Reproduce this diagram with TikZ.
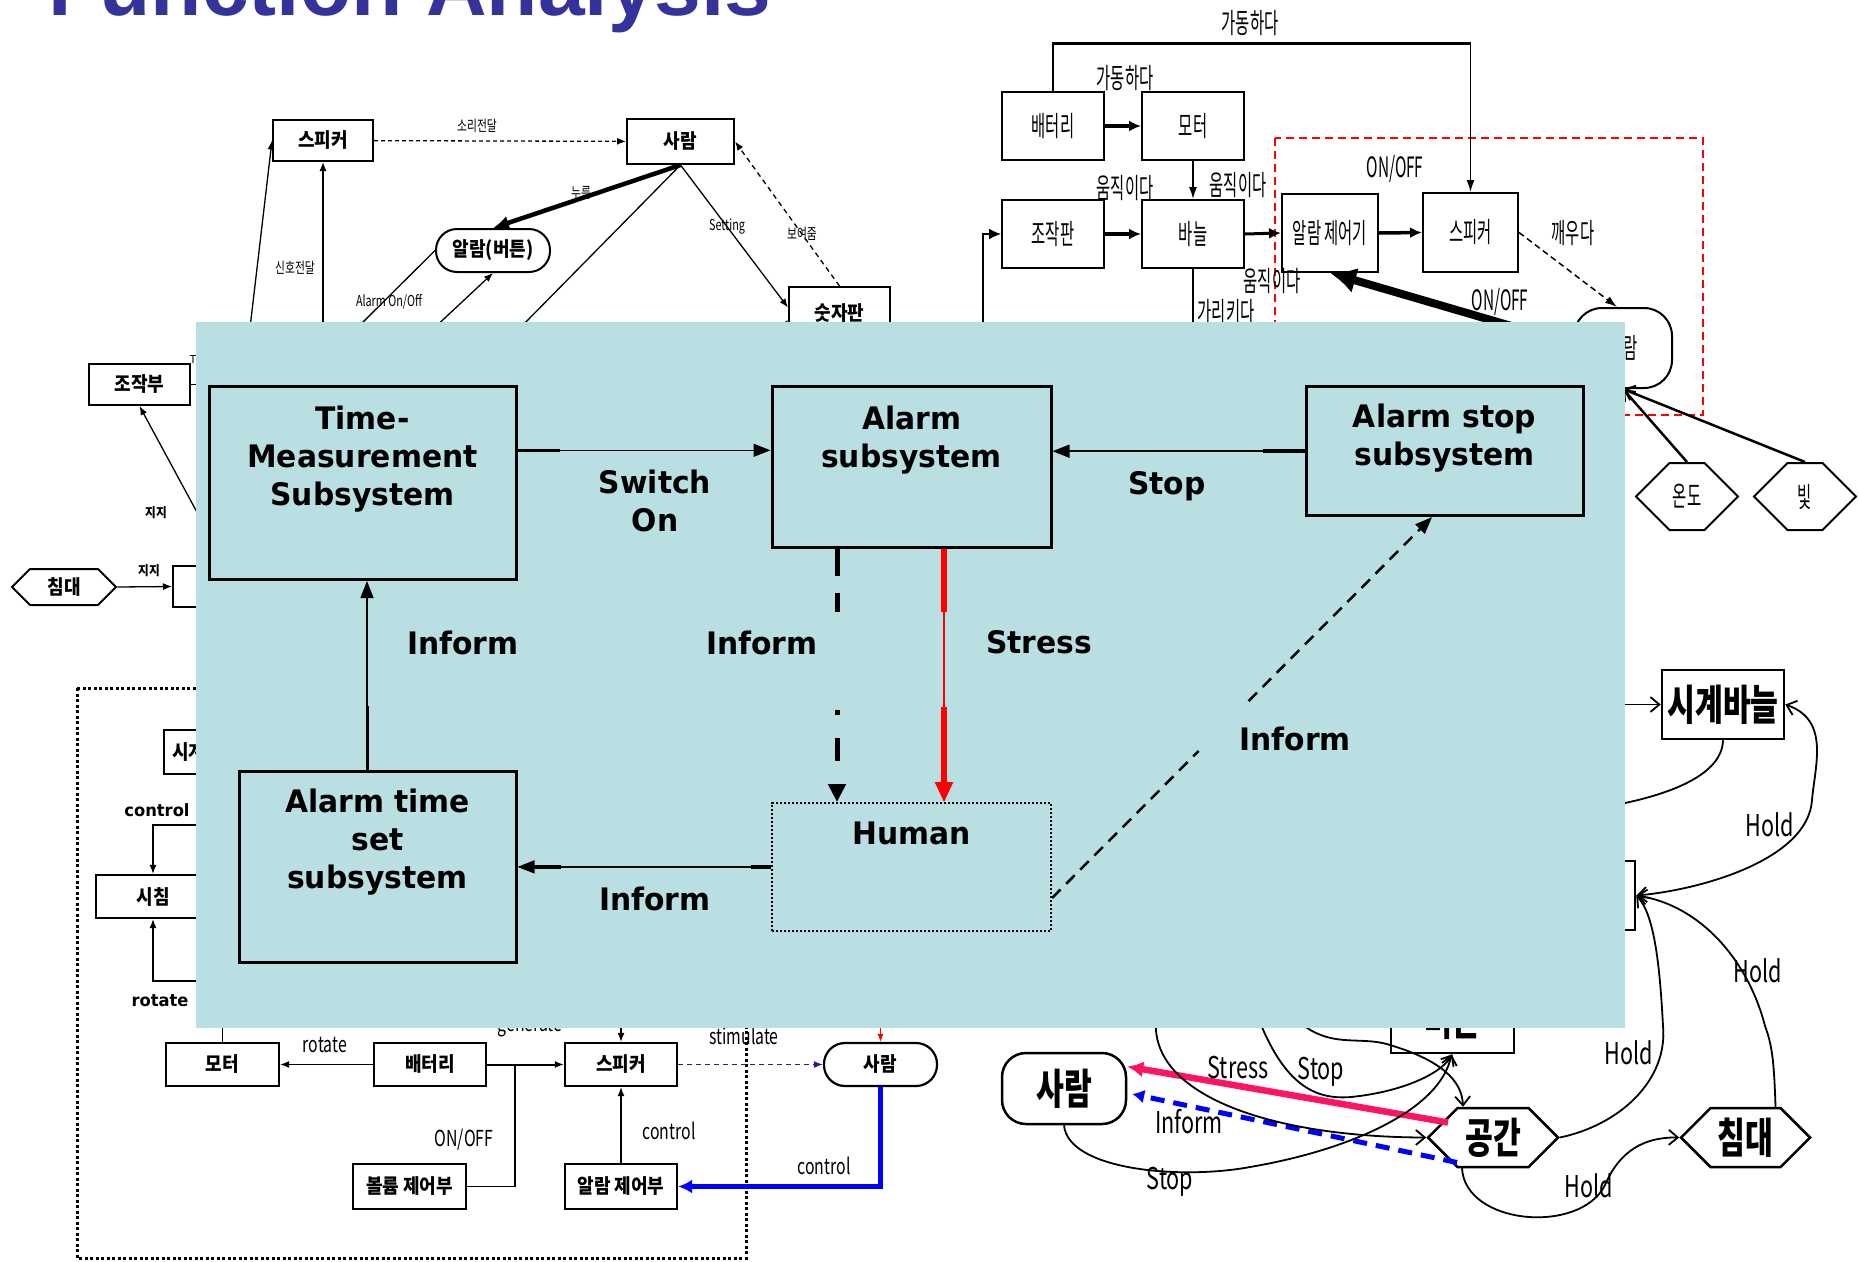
\documentclass[tikz,border=0pt]{standalone}
\usepackage{fontspec}
\setmainfont{DejaVu Sans}[FakeStretch=0.96]
\newfontfamily\titlefont{Liberation Sans}
\newfontfamily\krbold{Noto Sans CJK KR}[FakeStretch=0.9]
\newfontfamily\krnar{Noto Sans CJK KR}[FakeStretch=0.72]
\newfontfamily\krthin{Noto Sans CJK KR}[FakeStretch=0.55]
\usetikzlibrary{arrows.meta,shapes.symbols,calc}
\definecolor{panel}{RGB}{185,223,227}
\definecolor{titleblue}{RGB}{51,51,153}
\definecolor{dotnavy}{RGB}{30,30,140}
\definecolor{pinkred}{RGB}{255,20,100}
\newcommand\fsz[2]{\fontsize{#1}{#2}\selectfont}
\tikzset{
  tlbox/.style={draw,line width=2,fill=white,inner sep=0,font=\krbold\bfseries\fsz{20}{20}},
  tllbl/.style={inner sep=0,font=\krnar\fsz{15}{15}},
  tlbold/.style={inner sep=0,font=\krbold\bfseries\fsz{13}{13}},
  tlline/.style={line width=1.3},
  smalltip/.style={-{Latex[length=9pt,width=7pt]}},
  lbbox/.style={draw,line width=2.2,fill=white,inner sep=0,font=\krbold\bfseries\fsz{20}{20}},
  lblcond/.style={inner sep=0,font=\krnar\fsz{22}{22}},
  lblbold/.style={inner sep=0,font=\bfseries\fsz{17}{17}},
  trbox/.style={draw,line width=2,fill=white,inner sep=0,font=\krthin\fsz{28}{28}},
  trlbl/.style={inner sep=0,font=\krthin\fsz{28}{28}},
  trline/.style={line width=1.5},
  brbox/.style={draw,line width=2.5,fill=white,inner sep=0,font=\krnar\bfseries\fsz{42}{42}},
  brlbl/.style={inner sep=0,font=\krnar\fsz{30}{30}},
  brline/.style={line width=1.8},
  barb/.style={-{Straight Barb[length=9pt,width=15pt]}},
  hexa/.style={signal,signal to=west and east},
  mbox/.style={draw,line width=3,inner sep=0},
  mtext/.style={inner sep=0,align=center,font=\bfseries\fsz{31}{38}},
  mlbl/.style={inner sep=0,align=center,font=\bfseries\fsz{31}{38}},
  marrow/.style={line width=1.5,-{Triangle[length=17pt,width=13pt]}},
}

\begin{document}
\begin{tikzpicture}[x=1pt,y=-1pt]
\useasboundingbox (0,0) rectangle (1859,1261);
\clip (0,0) rectangle (1859,1261);

% title
\node[anchor=base west,inner sep=0,text=titleblue,font=\titlefont\bfseries\fsz{84}{84}] (title) at (48,15) {Function Analysis};

% top left diagram
\node[tlbox,minimum width=100,minimum height=41] (spkA) at (323,140.5) {스피커};
\node[tlbox,minimum width=107,minimum height=45] (humA) at (680.5,141.5) {사람};
\node[tlbox,rounded corners=21,minimum width=114,minimum height=43] (btnA) at (493,250.5) {알람(버튼)};
\node[tlbox,minimum width=101,minimum height=53] (numA) at (839.5,313.5) {숫자판};
\node[tlbox,minimum width=101,minimum height=41] (ctlA) at (139.5,384.5) {조작부};
\node[tlbox,hexa,minimum width=104,minimum height=36] (bedA) at (64,587) {침대};
\node[tlbox,minimum width=90,minimum height=41] (boxA) at (218,586.5) {};

\draw[tlline,dash pattern=on 4pt off 3pt,smalltip] (spkA) -- (humA);
\node[tllbl] (lA1) at (477,126) {소리전달};
\draw[line width=4.5,-{Latex[length=16pt,width=14pt]}] (humA.south) -- (btnA.north);
\node[tllbl] (lA2) at (581,193) {누름};
\draw[tlline] (humA.south) -- (518,330);
\draw[tlline,smalltip] (humA.south) -- ([yshift=6]numA.west);
\node[tllbl] (lA3) at (727,227) {Setting};
\draw[tlline,dash pattern=on 5pt off 4pt,smalltip] (numA.north) -- (humA.east);
\node[tllbl] (lA4) at (802,234) {보여줌};
\draw[tlline,smalltip] (774,340) -- ([yshift=-6]numA.west);
\draw[tlline] (btnA.west) -- (350,335);
\node[tllbl] (lA5) at (389,302) {Alarm On/Off};
\draw[tlline,smalltip] (416,345) -- (btnA.south);
\draw[tlline,smalltip] (248,345) -- (spkA.west);
\draw[tlline,smalltip] (323,345) -- (spkA.south);
\node[tllbl] (lA6) at (295,268) {신호전달};
\draw[tlline] (ctlA.east) -- (215,384.5);
\node[inner sep=0,font=\fsz{11}{11}] (lA7) at (193,359) {T};
\draw[tlline,smalltip] (205,527) -- (ctlA.south);
\node[tlbold] (lA8) at (156,513) {지지};
\draw[tlline,smalltip] (bedA.east) -- (boxA.west);
\node[tlbold] (lA9) at (149,571) {지지};

% bottom left diagram
\draw[line width=3,dash pattern=on 3pt off 2.5pt] (77,688) rectangle (746,1258);
\node[lbbox,text width=84,align=left,inner xsep=8,minimum height=44] (clkB) at (214,752) {시계};
\node[lbbox,minimum width=114,minimum height=43] (sicB) at (153,896.5) {시침};
\node[lbbox,minimum width=113,minimum height=43] (motB) at (222.5,1064.5) {모터};
\node[lbbox,minimum width=112,minimum height=43] (batB) at (430,1064.5) {배터리};
\node[lbbox,minimum width=112,minimum height=43] (spkB) at (621,1064.5) {스피커};
\node[lbbox,minimum width=113,minimum height=45] (volB) at (409.5,1186.5) {볼륨 제어부};
\node[lbbox,minimum width=112,minimum height=45] (almB) at (621,1186.5) {알람 제어부};
\node[lbbox,rounded corners=21,minimum width=113,minimum height=43] (humB) at (880.5,1064.5) {사람};

\draw[tlline,smalltip] (215,825) -| (sicB.north);
\node[lblbold] (lB1) at (157,810) {control};
\draw[tlline,smalltip] (215,981) -| (sicB.south);
\node[lblbold] (lB2) at (160,1001) {rotate};
\draw[tlline] (motB.north) -- (222.5,1020);
\draw[tlline,smalltip] (batB.west) -- (motB.east);
\node[lblcond] (lB3) at (325,1045) {rotate};
\draw[line width=2,smalltip] (batB.east) -- (spkB.west);
\draw[tlline] (volB.east) -| (515,1064.5);
\node[lblcond] (lB4) at (464,1140) {ON/OFF};
\draw[tlline,smalltip] (almB.north) -- (spkB.south);
\node[lblcond] (lB5) at (669,1131) {control};
\draw[tlline,smalltip] (621,1020) -- (spkB.north);
\node[lblcond] (lB6) at (530,1027) {generate};
\draw[dotnavy,tlline,dash pattern=on 5pt off 4pt,smalltip] (spkB.east) -- (humB.west);
\node[lblcond] (lB7) at (744,1036) {stimulate};
\draw[red,line width=1,-{Latex[length=8pt,width=6pt]}] (880.5,1020) -- (humB.north);
\draw[blue,line width=4.5,-{Latex[length=14pt,width=14pt]}] (humB.south) |- (almB.east);
\node[lblcond] (lB8) at (824,1166) {control};

% top right diagram
\draw[red,line width=2,dash pattern=on 8pt off 5pt] (1275,138) rectangle (1703,415);
\node[trbox,minimum width=102,minimum height=68] (batC) at (1053,126) {배터리};
\node[trbox,minimum width=102,minimum height=68] (motC) at (1193,126) {모터};
\node[trbox,minimum width=102,minimum height=68] (ctlC) at (1053,234) {조작판};
\node[trbox,minimum width=102,minimum height=68] (ndlC) at (1193,234) {바늘};
\node[trbox,minimum width=96,minimum height=78] (almC) at (1330,233) {알람 제어기};
\node[trbox,minimum width=95,minimum height=79] (spkC) at (1470.5,232.5) {스피커};
\node[trbox,rounded corners=28,minimum width=98,minimum height=80] (alrC) at (1623,348) {알람};
\node[trbox,hexa,minimum width=102,minimum height=67] (tmpC) at (1687,496.5) {온도};
\node[trbox,hexa,minimum width=102,minimum height=67] (litC) at (1805,496.5) {빛};

\draw[trline,-{Latex[length=12pt,width=8pt]}] (batC.north) |- (1470.5,43) -- (spkC.north);
\draw[line width=3] (batC.north |- 0,43) -- (spkC.north |- 0,43);
\node[trlbl] (lC1) at (1250,23) {가동하다};
\draw[line width=3.5,-{Latex[length=12pt,width=11pt]}] (batC.east) -- (motC.west);
\node[trlbl] (lC2) at (1125,78) {가동하다};
\draw[trline,-{Latex[length=12pt,width=8pt]}] (motC.south) -- (ndlC.north);
\node[trlbl] (lC3) at (1238,185) {움직이다};
\draw[line width=3.5,-{Latex[length=12pt,width=11pt]}] (ctlC.east) -- (ndlC.west);
\node[trlbl] (lC4) at (1125,188) {움직이다};
\draw[trline,-{Latex[length=12pt,width=11pt]}] (983,330) |- (ctlC.west);
\draw[line width=3,-{Latex[length=12pt,width=11pt]}] (ndlC.east) -- (almC.west);
\draw[line width=3.5,-{Latex[length=12pt,width=11pt]}] (almC.east) -- (spkC.west);
\node[trlbl] (lC5) at (1395,169) {ON/OFF};
\draw[trline] (ndlC.south) -- (1193,330);
\node[trlbl] (lC6) at (1226,312) {가리키다};
\node[trlbl] (lC7) at (1272,281) {움직이다};
\draw[trline,dash pattern=on 6pt off 4pt,-{Latex[length=12pt,width=8pt]}] (spkC.east) -- ([xshift=-6]alrC.north);
\node[trlbl] (lC8) at (1573,233) {깨우다};
\draw[line width=8,-{Latex[length=26pt,width=26pt]}] (1525,330) -- (almC.south);
\node[trlbl] (lC9) at (1500,302) {ON/OFF};
\draw[line width=2.5,barb] (tmpC.north) -- (alrC.south);
\draw[line width=2.5,barb] (litC.north) -- (alrC.south);

% bottom right diagram
\node[brbox,minimum width=122,minimum height=69] (clhD) at (1723,704.5) {시계바늘};
\node[brbox,minimum width=150,minimum height=69] (boxD) at (1560,895.5) {};
\node[brbox,minimum width=123,minimum height=66] (btnD) at (1452.5,1020) {버튼};
\node[brbox,rounded corners=24,minimum width=124,minimum height=71] (humD) at (1064,1088.5) {사람};
\node[brbox,hexa,minimum width=130,minimum height=59] (spcD) at (1493,1137.5) {공간};
\node[brbox,hexa,minimum width=129,minimum height=59] (bedD) at (1745.5,1137.5) {침대};

\draw[brline,barb] (1625,704.5) -- (clhD.west);
\draw[brline] (clhD.south) .. controls (1722,775) and (1670,795) .. (1610,806);
\draw[brline,{Straight Barb[length=9pt,width=15pt]}-{Straight Barb[length=9pt,width=15pt]}] (clhD.east) .. controls (1830,720) and (1815,765) .. (1812,800) .. controls (1808,860) and (1700,890) .. (boxD.east);
\node[brlbl] (lD1) at (1770,825) {Hold};
\draw[brline,barb] (spcD.east) .. controls (1620,1125) and (1668,1080) .. (1663,1026) .. controls (1660,970) and (1655,915) .. (boxD.east);
\node[brlbl] (lD2) at (1629,1053) {Hold};
\draw[brline,barb] ([xshift=30]bedD.north) .. controls (1774,1060) and (1772,1045) .. (1765,1026) .. controls (1748,960) and (1700,905) .. (boxD.east);
\node[brlbl] (lD3) at (1758,971) {Hold};
\draw[brline,barb] ([xshift=-31]spcD.south) .. controls (1465,1225) and (1580,1235) .. (1605,1185) .. controls (1620,1150) and (1645,1137) .. (bedD.west);
\node[brlbl] (lD4) at (1589,1186) {Hold};
\draw[pinkred,line width=6.5,-{Latex[length=16pt,width=16pt]}] ([xshift=-45,yshift=15]spcD.center) -- ([yshift=22]humD.east);
\node[brlbl] (lD5) at (1238,1067) {Stress};
\draw[blue,line width=5,dash pattern=on 14pt off 9pt,-{Latex[length=12pt,width=14pt]}] ([xshift=-36,yshift=-25]spcD.center) -- ([xshift=5,yshift=-5.5]humD.east);
\node[brlbl] (lD6) at (1189,1122) {Inform};
\draw[brline,barb] (humD.south) .. controls (1068,1170) and (1180,1180) .. (1250,1167) .. controls (1350,1150) and (1440,1110) .. ([xshift=-1]btnD.south);
\node[brlbl] (lD7) at (1170,1182) {Stop};
\draw[brline,barb] (1156,1020) .. controls (1150,1095) and (1270,1137) .. (spcD.west);
\draw[brline,barb] (1259,1020) .. controls (1285,1085) and (1315,1100) .. (1351,1097) .. controls (1400,1092) and (1440,1075) .. (btnD.south);
\node[brlbl] (lD8) at (1321,1072) {Stop};
\draw[brline,barb] (1297,1020) .. controls (1330,1050) and (1360,1035) .. (1390,1045) .. controls (1440,1060) and (1462,1080) .. ([xshift=-30]spcD.north);

% overlay panel
\fill[panel] (196,322) rectangle (1625,1028);

% main diagram
\node[mbox,minimum width=307,minimum height=193] (tms) at (362.5,483) {};
\node[mtext,anchor=north] (tmsT) at (362.5,406) {Time-\\Measurement\\Subsystem};
\node[mbox,minimum width=279,minimum height=160.6] (alm) at (911.5,466.7) {};
\node[mtext,anchor=north] (almT) at (911.5,406) {Alarm\\subsystem};
\node[mbox,minimum width=277,minimum height=128.8] (stp) at (1444.5,451.2) {};
\node[mtext,anchor=north] (stpT) at (1444.5,404) {Alarm stop\\subsystem};
\node[mbox,minimum width=277,minimum height=191.7] (att) at (377.5,866.9) {};
\node[mtext,anchor=north] (attT) at (377.5,789) {Alarm time\\set\\subsystem};
\node[mbox,line width=2,dash pattern=on 2pt off 2pt,minimum width=279,minimum height=127.7] (hum) at (911.5,866.9) {};
\node[mtext,anchor=north] (humT) at (911.5,822) {Human};

\draw[marrow] ([yshift=32.7]tms.east) -- ([yshift=16.4]alm.west);
\draw[line width=3.5] ([yshift=32.7]tms.east) -- ++(42,0);
\node[mlbl] (lM1) at (655,500.5) {Switch\\On};
\draw[marrow] (stp.west) -- ([yshift=15.5]alm.east);
\draw[line width=3.5] (stp.west) -- ++(-42,0);
\node[mlbl] (lM2) at (1167,486) {Stop};
\draw[marrow] ([xshift=-10.5]att.north) -- ([xshift=4.5]tms.south);
\draw[line width=3] ([xshift=-10.5]att.north) -- ++(0,-64);
\node[mlbl] (lM3) at (463,642.6) {Inform};
\draw[line width=5,dash pattern=on 27pt off 17pt on 19pt off 98pt on 5pt off 23pt on 23pt off 50pt,-{Triangle[length=18pt,width=17pt]}] ([xshift=-74.5]alm.south) -- ([xshift=-74.5]hum.north);
\node[mlbl] (lM4) at (762,642.6) {Inform};
\draw[red,line width=2.5,-{Triangle[length=20pt,width=18pt]}] ([xshift=32.5]alm.south) -- ([xshift=32.5]hum.north);
\draw[red,line width=6.5] ([xshift=32.5]alm.south) -- ++(0,63);
\draw[red,line width=6.5] ([xshift=32.5,yshift=95]hum.north) -- ([xshift=32.5,yshift=20]hum.north);
\node[mlbl] (lM5) at (1039,642.6) {Stress};
\coordinate (attE) at (hum.west -| att.east);
\draw[marrow] (hum.west) -- (attE);
\draw[line width=3.5] (hum.west) -- ++(-20,0);
\draw[line width=3.5] ([xshift=17]attE) -- ++(26,0);
\node[mlbl] (lM6) at (655,899) {Inform};
\coordinate (humNE) at ([yshift=-31.1]hum.east);
\coordinate (stpS) at ([xshift=-12.5]stp.south);
\draw[line width=2.5,dash pattern=on 12pt off 8pt] (humNE) -- ($(humNE)!0.386!(stpS)$);
\draw[line width=2.5,dash pattern=on 12pt off 8pt,-{Triangle[length=17pt,width=13pt]}] ($(humNE)!0.517!(stpS)$) -- (stpS);
\node[mlbl] (lM7) at (1295,738.5) {Inform};
\end{tikzpicture}
\end{document}
